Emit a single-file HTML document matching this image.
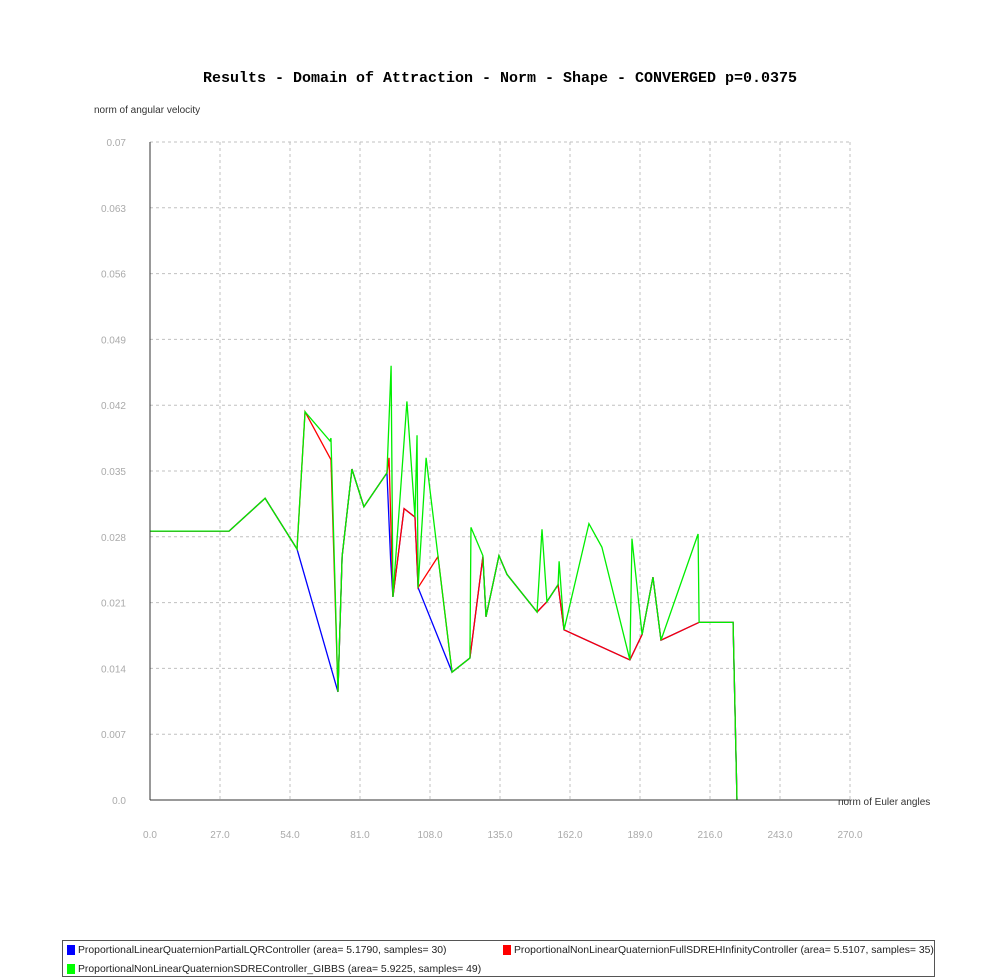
<!DOCTYPE html>
<html><head><meta charset="utf-8"><style>
body{margin:0;background:#fff;}
svg{display:block;font-family:"Liberation Sans",sans-serif;}
</style></head><body>
<svg width="1000" height="978">
<text x="500" y="82" text-anchor="middle" font-family="Liberation Mono, monospace" font-weight="bold" font-size="15">Results - Domain of Attraction - Norm - Shape - CONVERGED p=0.0375</text>
<text x="94" y="113" font-size="10" fill="#333">norm of angular velocity</text>
<text x="838" y="805" font-size="10" fill="#333">norm of Euler angles</text>
<g id="grid"></g><g id="series"></g>
<line x1="150" y1="142" x2="150" y2="800" stroke="#333"/>
<line x1="150" y1="800" x2="850" y2="800" stroke="#333"/>
<g>
<rect x="62.5" y="940.5" width="872" height="36" fill="none" stroke="#555"/>
<rect x="67" y="945" width="8" height="10" fill="#0000ff"/>
<text x="78" y="953" font-size="10.4" fill="#222">ProportionalLinearQuaternionPartialLQRController (area= 5.1790, samples= 30)</text>
<rect x="503" y="945" width="8" height="10" fill="#ff0000"/>
<text x="514" y="953" font-size="10.4" fill="#222">ProportionalNonLinearQuaternionFullSDREHInfinityController (area= 5.5107, samples= 35)</text>
<rect x="67" y="964" width="8" height="10" fill="#00ff00"/>
<text x="78" y="972" font-size="10.4" fill="#222">ProportionalNonLinearQuaternionSDREController_GIBBS (area= 5.9225, samples= 49)</text>
</g>
</svg>
<script>
const xTicks=[0,27,54,81,108,135,162,189,216,243,270];
const yTicks=[0,0.007,0.014,0.021,0.028,0.035,0.042,0.049,0.056,0.063,0.07];
const blueData=[[0,.0286],[30.5,.0286],[44.4,.0321],[56.7,.0267],[72.5,.0115],[74.1,.0259],[77.9,.0352],[82.5,.0312],[91.4,.0348],[92.8,.0256],[93.7,.0216],[98.0,.0310],[102.2,.0301],[103.4,.0226],[116.5,.0136],[123.4,.0151],[128.4,.0259],[129.6,.0195],[134.6,.0260],[137.7,.0240],[149.3,.0200],[153.1,.0211],[157.4,.0229],[159.7,.0181],[185.1,.0149],[189.8,.0176],[194.0,.0237],[197.1,.0170],[211.8,.0189],[224.9,.0189],[226.4,0]];
const redData=[[0,.0286],[30.5,.0286],[44.4,.0321],[56.7,.0267],[59.8,.0413],[69.8,.0362],[72.5,.0115],[74.1,.0259],[77.9,.0352],[82.5,.0312],[91.4,.0348],[92.2,.0364],[93.7,.0216],[98.0,.0310],[102.2,.0301],[103.4,.0226],[111.1,.0259],[116.5,.0136],[123.4,.0151],[128.4,.0259],[129.6,.0195],[134.6,.0260],[137.7,.0240],[149.3,.0200],[153.1,.0211],[157.4,.0229],[159.7,.0181],[185.1,.0149],[189.8,.0176],[194.0,.0237],[197.1,.0170],[211.8,.0189],[224.9,.0189],[226.4,0]];
const greenData=[[0,.0286],[30.5,.0286],[44.4,.0321],[56.7,.0267],[59.8,.0413],[69.4,.0382],[69.8,.0385],[72.5,.0115],[74.1,.0259],[77.9,.0352],[82.5,.0312],[91.4,.0348],[93.0,.0462],[93.7,.0216],[99.1,.0424],[102.2,.0301],[103.0,.0388],[103.4,.0226],[106.5,.0364],[111.1,.0259],[116.5,.0136],[123.4,.0151],[123.8,.0290],[128.4,.0260],[129.6,.0195],[134.6,.0260],[137.7,.0240],[149.3,.0200],[151.2,.0288],[153.1,.0211],[157.4,.0229],[157.8,.0254],[159.7,.0181],[169.3,.0294],[174.3,.0269],[185.1,.0149],[185.9,.0278],[189.8,.0176],[194.0,.0237],[197.1,.0170],[211.4,.0283],[211.8,.0189],[224.9,.0189],[226.4,0]];
const NS="http://www.w3.org/2000/svg";
const X=v=>150+v/270*700, Y=v=>800-v/0.07*658;
const grid=document.getElementById('grid'), ser=document.getElementById('series');
function mk(tag,attrs,parent){const e=document.createElementNS(NS,tag);for(const k in attrs)e.setAttribute(k,attrs[k]);parent.appendChild(e);return e;}
xTicks.forEach(t=>{
 if(t>0){const l=mk('line',{x1:X(t),x2:X(t),y1:142,y2:800,stroke:'#c0c0c0','stroke-dasharray':'3,3'},grid);
 
 }
 const tx=mk('text',{x:X(t),y:838,'text-anchor':'middle','font-size':10,fill:'#aaa'},grid);
 
 
 tx.textContent=t.toFixed(1);
});
yTicks.forEach(t=>{
 if(t>0){const l=mk('line',{x1:150,x2:850,y1:Y(t),y2:Y(t),stroke:'#c0c0c0','stroke-dasharray':'3,3'},grid);
 
 }
 const tx=mk('text',{x:126,y:Y(t)+4,'text-anchor':'end','font-size':10,fill:'#aaa'},grid);
 
 
 tx.textContent=(t===0?'0.0':String(+t.toFixed(3)));
});
function line(data,color,name){
 const p=mk('polyline',{points:data.map(d=>X(d[0])+','+Y(d[1])).join(' '),fill:'none',stroke:color,'stroke-width':1.3},ser);
 
 
}
line(blueData,'#0000ff','series-lqr');
line(redData,'#ff0000','series-sdreh');
line(greenData,'#00ee00','series-gibbs');
</script>
</body></html>
